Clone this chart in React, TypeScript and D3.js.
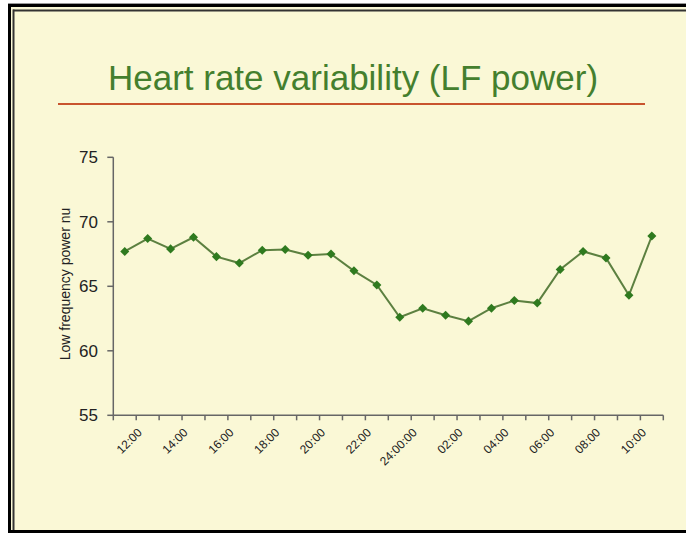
import React from "react";
import * as d3 from "d3";

const title = "Heart rate variability (LF power)";
const yAxisTitle = "Low frequency power nu";
const hours = ["12:00","13:00","14:00","15:00","16:00","17:00","18:00","19:00","20:00","21:00","22:00","23:00","24:00:00","01:00","02:00","03:00","04:00","05:00","06:00","07:00","08:00","09:00","10:00","11:00"];
const lfPower = [67.7,68.7,67.9,68.8,67.3,66.8,67.8,67.85,67.4,67.5,66.2,65.1,62.6,63.3,62.75,62.3,63.3,63.9,63.7,66.3,67.7,67.2,64.3,68.9];
const labelHours = ["12:00","14:00","16:00","18:00","20:00","22:00","24:00:00","02:00","04:00","06:00","08:00","10:00"];
const yTicks = [55, 60, 65, 70, 75];

const W = 686, H = 533;
const left = 113.3, right = 663.3, top = 157.3, bottom = 415.3;
const FONT = "'Liberation Sans', Arial, Helvetica, sans-serif";

export default function App() {
  const x = d3.scaleBand<string>().domain(hours).range([left, right]).padding(0);
  const y = d3.scaleLinear().domain([55, 75]).range([bottom, top]);
  const cx = (h: string) => (x(h) as number) + x.bandwidth() / 2;
  const line = d3.line<number>().x((_, i) => cx(hours[i])).y((d) => y(d));
  const boundaries = d3.range(hours.length + 1).map((i) => left + i * x.bandwidth());
  const diamond = d3.symbol().type(d3.symbolDiamond2).size(52)() as string;

  return (
    <svg width={W} height={H} style={{ position: "fixed", left: 0, top: 0, display: "block" }}>
      <rect x={0} y={0} width={W} height={H} fill="#ffffff" />
      <rect x={8} y={4} width={W} height={H} fill="#FAF8D6" />
      {/* frame */}
      <line x1={8} x2={W} y1={3.5} y2={3.5} stroke="#999" strokeWidth={1} />
      <line x1={9.5} x2={9.5} y1={4} y2={H} stroke="#000" strokeWidth={3} />
      <line x1={8} x2={W} y1={5.5} y2={5.5} stroke="#000" strokeWidth={3} />
      <line x1={8} x2={W} y1={531.5} y2={531.5} stroke="#000" strokeWidth={3} />
      <line x1={13.5} x2={13.5} y1={9.5} y2={530} stroke="#333" strokeWidth={2} />
      <line x1={13} x2={W} y1={10.5} y2={10.5} stroke="#333" strokeWidth={2} />

      <text x={353} y={90} textAnchor="middle" fontFamily={FONT} fontSize={35} fill="#447F2E">{title}</text>
      <line x1={58} x2={645} y1={104} y2={104} stroke="#C8542E" strokeWidth={2} />

      {/* y axis */}
      <line x1={left} x2={left} y1={top} y2={bottom} stroke="#666" strokeWidth={1.5} />
      {yTicks.map((t) => (
        <g key={t}>
          <line x1={left - 6} x2={left} y1={y(t)} y2={y(t)} stroke="#666" strokeWidth={1.5} />
          <text x={98} y={y(t) + 6} textAnchor="end" fontFamily={FONT} fontSize={17} fill="#222">{t}</text>
        </g>
      ))}
      <text transform={`translate(70,284) rotate(-90)`} textAnchor="middle" fontFamily={FONT} fontSize={14} fill="#222">{yAxisTitle}</text>

      {/* x axis */}
      <line x1={left} x2={right} y1={bottom} y2={bottom} stroke="#666" strokeWidth={1.5} />
      {boundaries.map((b, i) => (
        <line key={i} x1={b} x2={b} y1={bottom} y2={bottom + 5} stroke="#666" strokeWidth={1.5} />
      ))}
      {labelHours.map((lab) => (
        <text key={lab} transform={`translate(${cx(lab) + 18},${bottom + 18}) rotate(-45)`} textAnchor="end" fontFamily={FONT} fontSize={12} fill="#222">{lab}</text>
      ))}

      {/* series */}
      <path d={line(lfPower) as string} fill="none" stroke="#5C8040" strokeWidth={2} />
      {lfPower.map((v, i) => (
        <path key={i} d={diamond} transform={`translate(${cx(hours[i])},${y(v)})`} fill="#2F7A1F" />
      ))}
    </svg>
  );
}
